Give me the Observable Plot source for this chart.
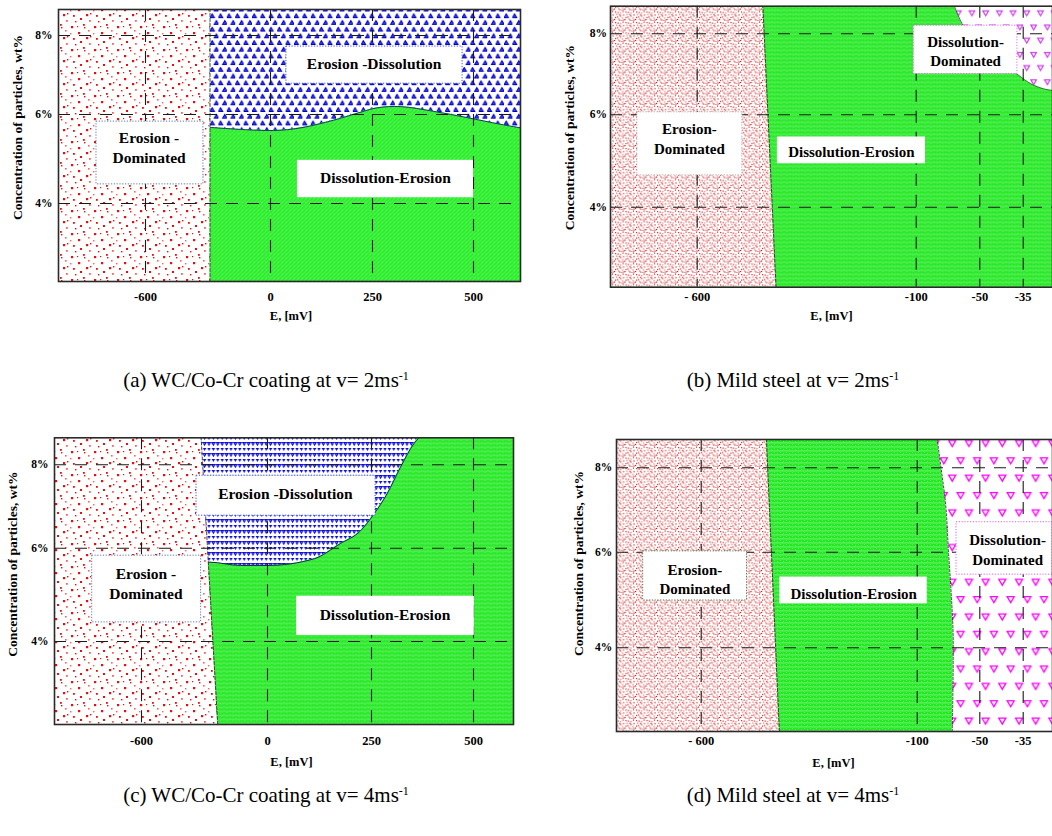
<!DOCTYPE html>
<html>
<head>
<meta charset="utf-8">
<script src="https://cdn.jsdelivr.net/npm/d3@7"></script>
<script src="https://cdn.jsdelivr.net/npm/@observablehq/plot@0.6"></script>
<style>
  body { margin: 0; background: #fff; }
  #wrap { position: relative; width: 1052px; height: 836px; overflow: hidden; background: #fff;
          font-family: 'Liberation Serif', 'Times New Roman', serif; }
  .panel { position: absolute; }
  .cap { position: absolute; width: 460px; text-align: center; font-size: 21px; line-height: 24px; color: #000; white-space: nowrap; }
  .cap sup { font-size: 12px; vertical-align: top; position: relative; top: -4px; }
</style>
</head>
<body>
<div id="wrap"></div>
<script>
// ---------- shared axis values ----------
const concTicks = [4, 6, 8];
const concTickLabels = ["4%", "6%", "8%"];
const coatingTicks = [-600, 0, 250, 500];
const coatingTickLabels = ["-600", "0", "250", "500"];
const steelTicks = [-600, -100, -50, -35];
const steelTickLabels = ["- 600", "-100", "-50", "-35"];
const xTitle = "E, [mV]";
const yTitle = "Concentration of particles, wt%";

// ---------- (a) WC/Co-Cr coating, v = 2 m/s ----------
const aAxisE = [-900, -600, 0, 250, 500, 620];
const aAxisC = [2.25, 4, 6, 8, 8.66];
const aErosionEdgeE = [-290, -290];
const aErosionEdgeC = [2.25, 8.66];
const aMixedEdgeE = [-290, 7, 74, 154, 212, 262, 319, 401, 484, 569, 620];
const aMixedEdgeC = [5.71, 5.64, 5.70, 5.87, 6.03, 6.17, 6.20, 6.08, 5.93, 5.78, 5.70];
const aLabels = ["Erosion -\nDominated", "Erosion -Dissolution", "Dissolution-Erosion"];
const aLabelE = [-583, 254, 282];
const aLabelC = [5.27, 7.32, 4.61];
const aBoxE1 = [-769, 39, 66];
const aBoxE2 = [-322, 473, 500];
const aBoxC1 = [4.43, 6.78, 4.13];
const aBoxC2 = [5.84, 7.72, 4.97];

// ---------- (b) Mild steel, v = 2 m/s ----------
const bAxisE = [-800, -600, -100, -50, -35, -25];
const bAxisC = [2.27, 4, 6, 8, 8.68];
const bErosionEdgeE = [-420, -450];
const bErosionEdgeC = [2.27, 8.68];
const bDissolutionEdgeE = [-70, -64, -36.5, -32.5, -28, -25];
const bDissolutionEdgeC = [8.68, 8.25, 6.97, 6.77, 6.64, 6.60];
const bLabels = ["Erosion-\nDominated", "Dissolution-Erosion", "Dissolution-\nDominated"];
const bLabelE = [-618, -248, -61.2];
const bLabelC = [5.50, 5.21, 7.59];
const bBoxE1 = [-738, -417, -105.5];
const bBoxE2 = [-497, -92.7, -37];
const bBoxC1 = [4.69, 4.94, 7.01];
const bBoxC2 = [6.06, 5.52, 8.20];

// ---------- (c) WC/Co-Cr coating, v = 4 m/s ----------
const cAxisE = [-900, -600, 0, 250, 500, 600];
const cAxisC = [2.22, 4, 6, 8, 8.65];
const cErosionEdgeE = [-237, -316];
const cErosionEdgeC = [2.22, 8.65];
const cMixedEdgeE = [-320, -275, -129, 0, 111, 175, 224, 256, 288, 321, 354, 366];
const cMixedEdgeC = [5.70, 5.70, 5.63, 5.63, 5.77, 6.11, 6.42, 6.82, 7.30, 7.94, 8.51, 8.65];
const cLabels = ["Erosion -\nDominated", "Erosion -Dissolution", "Dissolution-Erosion"];
const cLabelE = [-579, 43, 283];
const cLabelC = [5.27, 7.34, 4.59];
const cBoxE1 = [-770, -338, 70];
const cBoxE2 = [-316, 260, 502];
const cBoxC1 = [4.41, 6.78, 4.13];
const cBoxC2 = [5.84, 7.74, 4.97];

// ---------- (d) Mild steel, v = 4 m/s ----------
const dAxisE = [-800, -600, -100, -50, -35, -25];
const dAxisC = [2.25, 4, 6, 8, 8.67];
const dErosionEdgeE = [-419, -449];
const dErosionEdgeC = [2.25, 8.67];
const dDissolutionEdgeE = [-72, -71.2, -73, -75, -77.5, -81, -84];
const dDissolutionEdgeC = [2.25, 4.05, 5.2, 6.0, 7.2, 8.0, 8.67];
const dLabels = ["Erosion-\nDominated", "Dissolution-Erosion", "Dissolution-\nDominated"];
const dLabelE = [-615, -247, -40.4];
const dLabelC = [5.45, 5.16, 6.08];
const dBoxE1 = [-737, -418, -68.6];
const dBoxE2 = [-494, -92, -25];
const dBoxC1 = [4.99, 4.92, 5.53];
const dBoxC2 = [6.02, 5.48, 6.71];

// ---------- helpers ----------
const pts = (E, C) => E.map((e, i) => ({E: e, c: C[i]}));
const SERIF = "'Liberation Serif', 'Times New Roman', serif";

function tri(cx, cy, w, h) { return `M${cx - w / 2},${cy - h / 2}h${w}l${-w / 2},${h}z`; }
function triUp(cx, cy, w, h) { return `M${cx},${cy - h / 2}l${w / 2},${h}h${-w}z`; }

function patterns(s) {
  const sparse = [[2,3,2.2],[14,1,1.8],[9,9,2.2],[19,7,1.6],[17,14,2.2],[4,15,1.8],[11,18,2],[20,20,1.8],[6,21,1.4],[21,13,1.4],[15,4,1.4],[1,10,1.4],[8,3,1.2]];
  const dense = [[1,1],[6,2],[9,4],[3,6],[8,7],[0,8.5],[5,9],[2,3.5],[8.5,0.5],[6,5],[4,8],[9,9],[1,6.5],[7,9.5],[3.5,1.5],[5,3.8]];
  return `
  <pattern id="redS${s}" patternUnits="userSpaceOnUse" width="23" height="23">
    <rect width="23" height="23" fill="#fff"/>
    ${sparse.map(([x, y, w], i) => `<rect x="${x}" y="${y}" width="${w}" height="${w}" fill="${i % 4 === 3 ? '#ff6060' : '#ee0c0c'}"/>`).join("")}
  </pattern>
  <pattern id="redD${s}" patternUnits="userSpaceOnUse" width="10.5" height="10.5">
    <rect width="10.5" height="10.5" fill="#fff"/>
    ${dense.map(([x, y], i) => `<rect x="${x}" y="${y}" width="1.15" height="1.15" fill="${i % 3 === 1 ? '#e65a5a' : '#c41414'}"/>`).join("")}
  </pattern>
  <pattern id="blueA${s}" patternUnits="userSpaceOnUse" width="8.4" height="13.4">
    <rect width="8.4" height="13.4" fill="#fff"/>
    <path d="${triUp(2.2, 2.4, 4.4, 3.9)} ${triUp(6.4, 9.1, 4.4, 3.9)}" fill="#3a3aff" stroke="#0000c8" stroke-width="1"/>
  </pattern>
  <pattern id="blueC${s}" patternUnits="userSpaceOnUse" width="4.4" height="11">
    <rect width="4.4" height="11" fill="#fff"/>
    <path d="${tri(2.2, 2.4, 3.4, 3)}" fill="#0a0ae6"/>
    <path d="${tri(2.2, 7.9, 3.2, 2.8)}" fill="#6c6cff" stroke="#0a0ae6" stroke-width="0.9"/>
  </pattern>
  <pattern id="greenH${s}" patternUnits="userSpaceOnUse" width="4" height="4">
    <rect width="4" height="4" fill="#26ee26"/>
    <path d="M-1,5L5,-1M-1,1L1,-1M3,5L5,3" stroke="#fff" stroke-width="0.6" opacity="0.5"/>
    <rect x="1" y="1" width="0.8" height="0.8" fill="#fff" opacity="0.4"/>
  </pattern>
  <pattern id="greenL${s}" patternUnits="userSpaceOnUse" width="6" height="4">
    <rect width="6" height="4" fill="#24e824"/>
    <rect x="0" y="1.6" width="6" height="0.7" fill="#fff" opacity="0.5"/>
    <rect x="1" y="0" width="0.8" height="0.8" fill="#fff" opacity="0.35"/>
    <rect x="4" y="3" width="0.8" height="0.8" fill="#fff" opacity="0.35"/>
  </pattern>
  <pattern id="magB${s}" patternUnits="userSpaceOnUse" width="13.7" height="27.4">
    <rect width="13.7" height="27.4" fill="#fff"/>
    <path d="${tri(3.6, 13.3, 5.6, 4.8)} ${tri(10.45, 0, 5.6, 4.8)} ${tri(10.45, 27.4, 5.6, 4.8)}" fill="none" stroke="#cc40e6" stroke-width="1.2"/>
  </pattern>
  <pattern id="magD${s}" patternUnits="userSpaceOnUse" width="16.7" height="34.7">
    <rect width="16.7" height="34.7" fill="#fff"/>
    <path d="${tri(4.2, 18, 7, 6)} ${tri(12.55, 0.65, 7, 6)} ${tri(12.55, 35.35, 7, 6)}" fill="none" stroke="#ff00ff" stroke-width="1.3"/>
  </pattern>`;
}

function drawPanel(p) {
  // The published axes are not evenly spaced: a piecewise-linear d3 scale through the
  // tick breakpoints maps E (mV) and concentration (%) onto the Plot position scales.
  const sx = d3.scaleLinear().domain(p.axisE).range(p.rangeX);
  const sy = d3.scaleLinear().domain(p.axisC).range(p.rangeY);
  const xMin = p.axisE[0];
  const yMax = p.axisC[p.axisC.length - 1];
  const id = p.id;
  const fillOf = (name) => `url(#${name}${id})`;
  const X = (d) => sx(d.E), Y = (d) => sy(d.c);
  const marks = [Plot.frame({fill: fillOf(p.background), stroke: "none"})];

  for (const r of p.regions) {
    const data = pts(r.E, r.C);
    if (r.kind === "above") {
      marks.push(Plot.areaY(data, {x: X, y1: Y, y2: () => sy(yMax), fill: fillOf(r.fill), curve: r.curve || "linear"}));
    } else {
      marks.push(Plot.areaX(data, {y: Y, x1: () => sx(xMin), x2: X, fill: fillOf(r.fill), curve: r.curve || "linear"}));
    }
    marks.push(Plot.line(data, {x: X, y: Y, stroke: r.edge, strokeWidth: 0.9, strokeDasharray: r.dash || null, curve: r.curve || "linear"}));
  }

  // dashed grid lines at the tick values
  marks.push(Plot.ruleX(p.ticksE, {x: (d) => sx(d), stroke: "#1a1a1a", strokeWidth: 1.1, strokeDasharray: "12,9"}));
  marks.push(Plot.ruleY(concTicks, {y: (d) => sy(d), stroke: "#1a1a1a", strokeWidth: 1.1, strokeDasharray: "12,9"}));

  // label boxes
  p.boxE1.forEach((e1, i) => {
    marks.push(Plot.rect([{x1: e1, x2: p.boxE2[i], y1: p.boxC1[i], y2: p.boxC2[i]}],
      {x1: (d) => sx(d.x1), x2: (d) => sx(d.x2), y1: (d) => sy(d.y1), y2: (d) => sy(d.y2), fill: "white",
       stroke: p.boxStroke[i] || "none", strokeWidth: 1, strokeDasharray: "1.2,1.6"}));
  });
  marks.push(Plot.text(pts(p.labelE, p.labelC).map((d, i) => ({...d, t: p.labels[i]})),
    {x: X, y: Y, text: "t", fontSize: p.labelSize, fontWeight: "bold", lineHeight: 1.28, fill: "#000"}));

  // axes
  const xPos = p.ticksE.map((v) => sx(v));
  const yPos = concTicks.map((v) => sy(v));
  const xMap = new Map(xPos.map((v, i) => [v, p.tickLabelsE[i]]));
  const yMap = new Map(yPos.map((v, i) => [v, concTickLabels[i]]));
  marks.push(Plot.axisX(xPos, {tickFormat: (d) => xMap.get(d), tickSize: 0, tickPadding: p.xPad,
    fontSize: 12.5, fontWeight: "bold", label: null}));
  marks.push(Plot.axisY(yPos, {tickFormat: (d) => yMap.get(d), tickSize: 0, tickPadding: p.yPad,
    fontSize: 11.5, fontWeight: "bold", label: null}));
  marks.push(Plot.text([xTitle], {frameAnchor: "bottom", lineAnchor: "middle", textAnchor: "middle", text: (d) => d,
    dx: p.xTitleDx, dy: p.xTitleDy, fontSize: 12.5, fontWeight: "bold"}));
  marks.push(Plot.text([yTitle], {frameAnchor: "left", lineAnchor: "middle", textAnchor: "middle", rotate: -90, text: (d) => d,
    dx: p.yTitleDx, dy: p.yTitleDy, fontSize: 13.5, fontWeight: "bold"}));
  marks.push(Plot.frame({stroke: "#2a2a2a", strokeWidth: 1.6}));

  const x0 = p.rangeX[0], x1 = p.rangeX[p.rangeX.length - 1];
  const y0 = p.rangeY[0], y1 = p.rangeY[p.rangeY.length - 1];
  const el = Plot.plot({
    width: p.width, height: p.height,
    marginLeft: x0, marginRight: p.width - x1,
    marginTop: y1, marginBottom: p.height - y0,
    x: {domain: [x0, x1]},
    y: {domain: [y0, y1]},
    style: {fontFamily: SERIF, fontSize: "12px", background: "transparent", overflow: "visible"},
    marks
  });
  const svg = el.tagName.toLowerCase() === "svg" ? el : el.querySelector("svg");
  const defs = document.createElementNS("http://www.w3.org/2000/svg", "defs");
  defs.innerHTML = patterns(id);
  svg.insertBefore(defs, svg.firstChild);
  el.classList.add("panel");
  el.style.left = p.left + "px";
  el.style.top = p.top + "px";
  el.style.maxWidth = "none";
  document.getElementById("wrap").appendChild(el);
}

const panels = [
  {id: "a", left: 0, top: 0, width: 526, height: 330,
   rangeX: [58, 145, 270, 372, 473, 520], rangeY: [281, 203, 114, 35, 9],
   axisE: aAxisE, axisC: aAxisC, ticksE: coatingTicks, tickLabelsE: coatingTickLabels,
   background: "greenH",
   regions: [
     {kind: "above", E: aMixedEdgeE, C: aMixedEdgeC, fill: "blueA", curve: "catmull-rom", edge: "#1c2470"},
     {kind: "left", E: aErosionEdgeE, C: aErosionEdgeC, fill: "redS", edge: "#444", dash: "3,2"}
   ],
   labels: aLabels, labelE: aLabelE, labelC: aLabelC, labelSize: 15.5,
   boxE1: aBoxE1, boxE2: aBoxE2, boxC1: aBoxC1, boxC2: aBoxC2, boxStroke: ["#5a78b8", "#4050d0", null],
   xPad: 11, yPad: 6, xTitleDx: 1.5, xTitleDy: 34, yTitleDx: -41, yTitleDy: -18},
  {id: "b", left: 530, top: 0, width: 522, height: 330,
   rangeX: [80, 166.7, 385.7, 449.3, 492.7, 522], rangeY: [286.7, 206.7, 114.3, 33.3, 5.7],
   axisE: bAxisE, axisC: bAxisC, ticksE: steelTicks, tickLabelsE: steelTickLabels,
   background: "greenL",
   regions: [
     {kind: "above", E: bDissolutionEdgeE, C: bDissolutionEdgeC, fill: "magB", curve: "monotone-x", edge: "#3a6a3a"},
     {kind: "left", E: bErosionEdgeE, C: bErosionEdgeC, fill: "redD", edge: "#333", dash: "3,2"}
   ],
   labels: bLabels, labelE: bLabelE, labelC: bLabelC, labelSize: 15,
   boxE1: bBoxE1, boxE2: bBoxE2, boxC1: bBoxC1, boxC2: bBoxC2, boxStroke: ["#b8b8b8", null, "#e070e0"],
   xPad: 5, yPad: 3.5, xTitleDx: 0, xTitleDy: 28.5, yTitleDx: -41, yTitleDy: -9},
  {id: "c", left: 0, top: 425, width: 526, height: 350,
   rangeX: [54, 141, 267, 371, 473, 513], rangeY: [299, 216, 122.7, 39.3, 12.3],
   axisE: cAxisE, axisC: cAxisC, ticksE: coatingTicks, tickLabelsE: coatingTickLabels,
   background: "greenL",
   regions: [
     {kind: "above", E: cMixedEdgeE, C: cMixedEdgeC, fill: "blueC", curve: "monotone-x", edge: "#101850"},
     {kind: "left", E: cErosionEdgeE, C: cErosionEdgeC, fill: "redS", edge: "#333", dash: "3,2"}
   ],
   labels: cLabels, labelE: cLabelE, labelC: cLabelC, labelSize: 15.5,
   boxE1: cBoxE1, boxE2: cBoxE2, boxC1: cBoxC1, boxC2: cBoxC2, boxStroke: ["#5a78b8", "#4050d0", null],
   xPad: 12, yPad: 6, xTitleDx: 7.5, xTitleDy: 37.7, yTitleDx: -42, yTitleDy: -17},
  {id: "d", left: 530, top: 425, width: 522, height: 350,
   rangeX: [86, 170.7, 386.7, 449.3, 492.7, 522], rangeY: [306, 222.3, 126.7, 42.3, 14],
   axisE: dAxisE, axisC: dAxisC, ticksE: steelTicks, tickLabelsE: steelTickLabels,
   background: "magD",
   regions: [
     {kind: "left", E: dDissolutionEdgeE, C: dDissolutionEdgeC, fill: "greenL", curve: "monotone-y", edge: "#1a3a1a", dash: "2,2"},
     {kind: "left", E: dErosionEdgeE, C: dErosionEdgeC, fill: "redD", edge: "#333", dash: "3,2"}
   ],
   labels: dLabels, labelE: dLabelE, labelC: dLabelC, labelSize: 15,
   boxE1: dBoxE1, boxE2: dBoxE2, boxC1: dBoxC1, boxC2: dBoxC2, boxStroke: ["#4a7a4a", null, "#e060e0"],
   xPad: 5, yPad: 4.3, xTitleDx: -1, xTitleDy: 31, yTitleDx: -38, yTitleDy: -22}
];

panels.forEach(drawPanel);

// captions
const captions = [
  {html: "(a) WC/Co-Cr coating at v= 2ms<sup>-1</sup>", cx: 266, cy: 380},
  {html: "(b) Mild steel at v= 2ms<sup>-1</sup>", cx: 793, cy: 380},
  {html: "(c) WC/Co-Cr coating at v= 4ms<sup>-1</sup>", cx: 266, cy: 795},
  {html: "(d) Mild steel at v= 4ms<sup>-1</sup>", cx: 793, cy: 795}
];
for (const c of captions) {
  const div = document.createElement("div");
  div.className = "cap";
  div.innerHTML = c.html;
  div.style.left = (c.cx - 230) + "px";
  div.style.top = (c.cy - 12) + "px";
  document.getElementById("wrap").appendChild(div);
}
</script>
</body>
</html>
